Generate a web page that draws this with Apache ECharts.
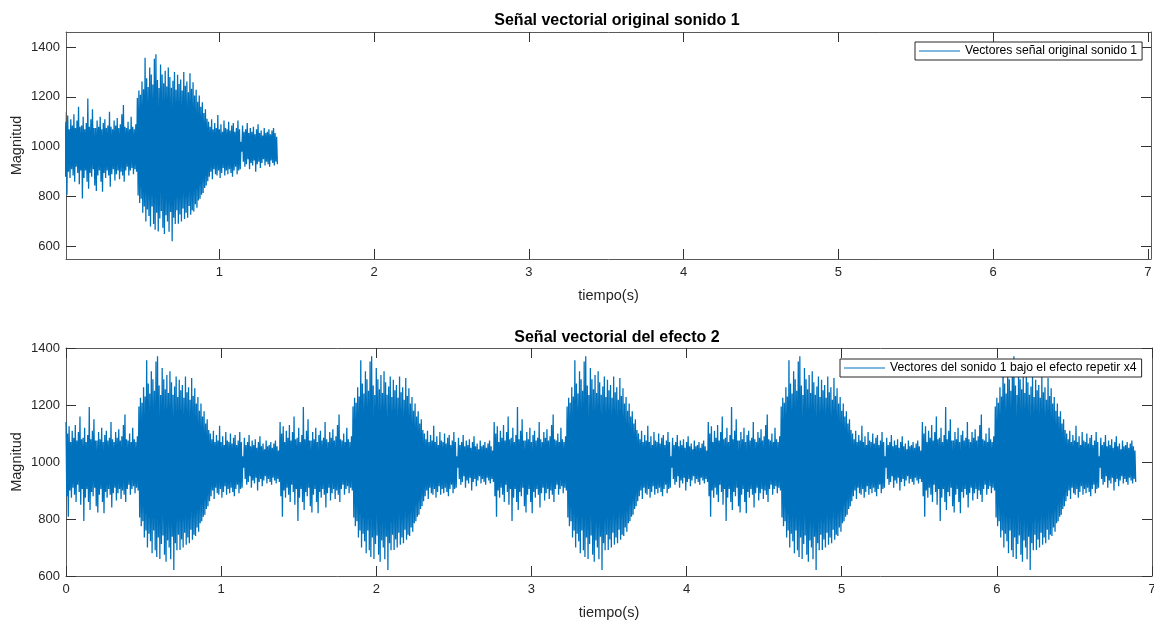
<!DOCTYPE html>
<html>
<head>
<meta charset="utf-8">
<script src="https://cdn.jsdelivr.net/npm/echarts@6/dist/echarts.min.js"></script>
<style>
  html, body { margin: 0; padding: 0; background: #ffffff; }
  #chart { width: 1154px; height: 620px; }
</style>
</head>
<body>
<div id="chart"></div>
<script>
// Duración de cada trama de análisis (s)
const pasoTrama = 0.01;

// Máximo de la señal en cada trama de 10 ms (sonido 1)
const picosSonido1 = [
  1140, 1100, 1125, 1070, 1110, 1085, 1130, 1075, 1105, 1160,
  1080, 1085, 1120, 1070, 1095, 1193, 1080, 1110, 1150, 1075,
  1075, 1105, 1080, 1120, 1070, 1095, 1110, 1075, 1085, 1140,
  1080, 1070, 1105, 1085, 1115, 1075, 1090, 1130, 1167, 1080,
  1075, 1100, 1070, 1120, 1080, 1070, 1090,
  1195, 1225, 1208, 1262, 1230, 1357, 1275, 1240, 1318, 1290,
  1250, 1353, 1371, 1268, 1235, 1330, 1290, 1255, 1305, 1242,
  1318, 1280, 1236, 1265, 1300, 1228, 1289, 1252, 1270, 1225,
  1300, 1245, 1262, 1218, 1295, 1232, 1259, 1205, 1228, 1180,
  1205, 1160, 1178, 1135, 1150, 1112,
  1100, 1080, 1110, 1070, 1095, 1075, 1127, 1070, 1090, 1060,
  1105, 1075, 1070, 1100, 1065, 1085, 1095, 1060, 1075, 1105, 1070,
  1020,
  1085, 1060, 1070, 1095, 1055, 1075, 1060, 1080, 1050, 1070,
  1090, 1055, 1065, 1045, 1075, 1055, 1060, 1070, 1050, 1065,
  1075, 1055, 1040
];

// Mínimo de la señal en cada trama de 10 ms (sonido 1)
const vallesSonido1 = [
  880, 808, 900, 875, 910, 885, 860, 920, 895, 850,
  905, 793, 875, 905, 860, 832, 895, 880, 910, 845,
  823, 885, 905, 860, 820, 895, 875, 905, 885, 840,
  890, 910, 865, 890, 905, 870, 900, 885, 860, 905,
  920, 885, 905, 915, 890, 910, 900,
  805, 775, 792, 735, 760, 700, 748, 722, 680, 760,
  690, 667, 735, 660, 712, 742, 675, 650, 725, 700,
  659, 738, 621, 715, 690, 745, 691, 728, 700, 752,
  710, 735, 715, 762, 727, 745, 740, 770, 755, 785,
  792, 808, 815, 835, 845, 862,
  880, 900, 870, 910, 890, 885, 905, 875, 895, 915,
  885, 905, 890, 910, 895, 880, 905, 920, 890, 905, 910,
  980,
  940, 920, 930, 950, 910, 935, 925, 945, 900, 930,
  940, 915, 935, 950, 925, 940, 930, 920, 945, 935,
  925, 940, 930
];

// El efecto 2 reproduce el sonido original y lo repite 4 veces más
const copiasEfecto = 5;

// Marcas de los ejes
const ticksTiempoOriginal = [1, 2, 3, 4, 5, 6, 7];
const ticksTiempoEfecto = [0, 1, 2, 3, 4, 5, 6, 7];
const ticksMagnitud = [600, 800, 1000, 1200, 1400];

const nombreOriginal = 'Vectores señal original sonido 1';
const nombreEfecto = 'Vectores del sonido 1 bajo el efecto repetir x4';

// Convierte las envolventes por trama en una polilínea que alterna máximo y mínimo
function trazoOnda(picos, valles, copias) {
  const duracion = picos.length * pasoTrama;
  const puntos = [];
  for (let k = 0; k < copias; k++) {
    for (let i = 0; i < picos.length; i++) {
      const t = k * duracion + i * pasoTrama;
      puntos.push([t, picos[i]]);
      puntos.push([t + pasoTrama / 2, valles[i]]);
    }
  }
  return puntos;
}

const fuente = '"Liberation Sans", Arial, Helvetica, sans-serif';
const colorEje = '#5a5a5a';
const colorTexto = '#262626';
const azul = '#0072BD';

function ejeX(gridIndex, min, max, ticks, principal) {
  return {
    type: 'value', gridIndex, min, max,
    position: principal ? 'bottom' : 'top',
    axisLine: { show: true, onZero: false, lineStyle: { color: colorEje, width: 1 } },
    axisTick: { show: true, inside: true, length: 10, customValues: ticks, lineStyle: { color: '#333', width: 1 } },
    axisLabel: principal
      ? { show: true, customValues: ticks, color: colorTexto, fontSize: 13, fontFamily: fuente, margin: 7,
          formatter: v => String(v) }
      : { show: false },
    splitLine: { show: false },
    name: principal ? 'tiempo(s)' : '',
    nameLocation: 'middle',
    nameGap: 29,
    nameTextStyle: { color: colorTexto, fontSize: 14.5, fontFamily: fuente }
  };
}

function ejeY(gridIndex, min, max, ticks, principal) {
  return {
    type: 'value', gridIndex, min, max,
    position: principal ? 'left' : 'right',
    axisLine: { show: true, onZero: false, lineStyle: { color: colorEje, width: 1 } },
    axisTick: { show: true, inside: true, length: 10, customValues: ticks, lineStyle: { color: '#333', width: 1 } },
    axisLabel: principal
      ? { show: true, customValues: ticks, color: colorTexto, fontSize: 13, fontFamily: fuente, margin: 6,
          formatter: v => String(v) }
      : { show: false },
    splitLine: { show: false },
    name: principal ? 'Magnitud' : '',
    nameLocation: 'middle',
    nameRotate: 90,
    nameGap: 42,
    nameMoveOverlap: false,
    nameTextStyle: { color: colorTexto, fontSize: 14.5, fontFamily: fuente }
  };
}

function leyenda(nombre, left, top) {
  return {
    data: [nombre],
    left, top,
    orient: 'horizontal',
    icon: 'rect',
    itemWidth: 41,
    itemHeight: 1.2,
    padding: [3, 5, 3, 4],
    backgroundColor: '#ffffff',
    borderColor: '#262626',
    borderWidth: 1,
    borderRadius: 0,
    selectedMode: false,
    textStyle: { color: '#000000', fontSize: 12.2, fontFamily: fuente }
  };
}

const chart = echarts.init(document.getElementById('chart'), null, { renderer: 'canvas' });

chart.setOption({
  animation: false,
  backgroundColor: '#ffffff',
  title: [
    {
      text: 'Señal vectorial original sonido 1',
      left: 612, top: 8, textAlign: 'center',
      textStyle: { fontSize: 16, fontWeight: 'bold', color: '#000000', fontFamily: fuente }
    },
    {
      text: 'Señal vectorial del efecto 2',
      left: 612, top: 325, textAlign: 'center',
      textStyle: { fontSize: 16, fontWeight: 'bold', color: '#000000', fontFamily: fuente }
    }
  ],
  legend: [
    leyenda(nombreOriginal, 915, 42),
    leyenda(nombreEfecto, 840, 359)
  ],
  grid: [
    { left: 66, top: 32, width: 1085, height: 227, containLabel: false, outerBoundsMode: 'none' },
    { left: 66, top: 348, width: 1086, height: 228, containLabel: false, outerBoundsMode: 'none' }
  ],
  xAxis: [
    ejeX(0, 0.009, 7.02, ticksTiempoOriginal, true),
    ejeX(0, 0.009, 7.02, ticksTiempoOriginal, false),
    ejeX(1, 0, 7, ticksTiempoEfecto, true),
    ejeX(1, 0, 7, ticksTiempoEfecto, false)
  ],
  yAxis: [
    ejeY(0, 550, 1460, ticksMagnitud, true),
    ejeY(0, 550, 1460, ticksMagnitud, false),
    ejeY(1, 600, 1400, ticksMagnitud, true),
    ejeY(1, 600, 1400, ticksMagnitud, false)
  ],
  series: [
    {
      name: nombreOriginal,
      type: 'line',
      xAxisIndex: 0, yAxisIndex: 0,
      data: trazoOnda(picosSonido1, vallesSonido1, 1),
      showSymbol: false, symbol: 'none',
      sampling: false,
      color: azul,
      lineStyle: { color: azul, width: 1.3 },
      clip: true
    },
    {
      name: nombreEfecto,
      type: 'line',
      xAxisIndex: 2, yAxisIndex: 2,
      data: trazoOnda(picosSonido1, vallesSonido1, copiasEfecto),
      showSymbol: false, symbol: 'none',
      sampling: false,
      color: azul,
      lineStyle: { color: azul, width: 1.3 },
      clip: true
    }
  ]
});
</script>
</body>
</html>
